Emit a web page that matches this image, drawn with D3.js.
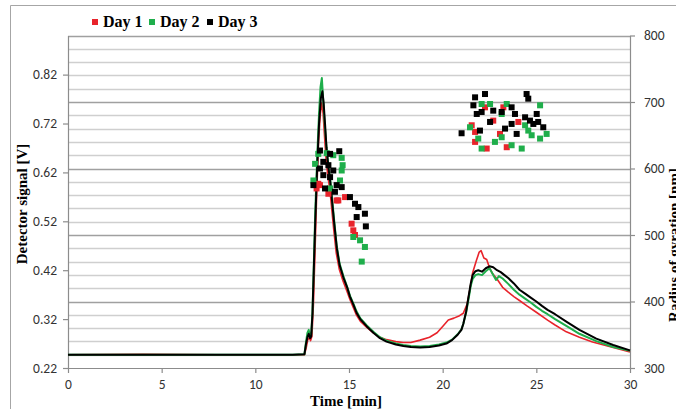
<!DOCTYPE html>
<html><head><meta charset="utf-8">
<script src="https://cdn.jsdelivr.net/npm/d3@7"></script>
<style>body{margin:0;background:#fff}svg{display:block}</style>
</head><body><svg id="c" width="676" height="409"></svg>
<script>
// ---- data ----
const seriesNames = ["Day 1", "Day 2", "Day 3"];
const seriesColors = ["#e8232b", "#1fae4b", "#000000"];
const xTicks = [0, 5, 10, 15, 20, 25, 30];
const yLeftTicks = [0.22, 0.32, 0.42, 0.52, 0.62, 0.72, 0.82];
const yRightTicks = [300, 400, 500, 600, 700, 800];

const day1Signal = [[0,0.247],[4,0.248],[8,0.247],[12,0.247],[12.62,0.247],[12.72,0.262],[12.8,0.278],[12.88,0.282],[12.95,0.276],[13.02,0.285],[13.1,0.35],[13.18,0.45],[13.27,0.57],[13.37,0.68],[13.47,0.74],[13.55,0.762],[13.62,0.74],[13.7,0.69],[13.78,0.645],[13.88,0.61],[13.98,0.585],[14.08,0.545],[14.18,0.505],[14.32,0.455],[14.48,0.422],[14.68,0.398],[14.88,0.378],[15.05,0.36],[15.25,0.342],[15.4,0.328],[15.6,0.316],[15.95,0.303],[16.3,0.292],[16.65,0.283],[17.0,0.278],[17.5,0.274],[17.9,0.272],[18.3,0.272],[18.8,0.277],[19.3,0.283],[19.7,0.292],[20.0,0.305],[20.3,0.318],[20.6,0.322],[20.9,0.327],[21.1,0.332],[21.3,0.35],[21.45,0.38],[21.6,0.415],[21.8,0.44],[21.95,0.457],[22.05,0.46],[22.2,0.445],[22.35,0.442],[22.5,0.425],[22.65,0.414],[22.9,0.402],[23.2,0.385],[23.5,0.375],[23.8,0.366],[24.1,0.358],[24.5,0.347],[25.0,0.334],[25.6,0.318],[26.0,0.308],[26.6,0.294],[27.3,0.283],[28.0,0.273],[29.0,0.263],[30,0.253]];
const day2Signal = [[0,0.247],[4,0.247],[8,0.247],[12,0.247],[12.62,0.248],[12.7,0.272],[12.78,0.292],[12.85,0.298],[12.92,0.285],[12.98,0.287],[13.05,0.335],[13.12,0.43],[13.2,0.54],[13.3,0.65],[13.4,0.74],[13.48,0.795],[13.55,0.813],[13.62,0.77],[13.7,0.72],[13.8,0.67],[13.9,0.635],[14.0,0.605],[14.1,0.565],[14.2,0.525],[14.35,0.468],[14.5,0.433],[14.7,0.408],[14.9,0.386],[15.05,0.368],[15.25,0.35],[15.4,0.336],[15.6,0.322],[15.95,0.307],[16.3,0.294],[16.65,0.283],[17.0,0.276],[17.5,0.27],[17.9,0.267],[18.3,0.265],[18.8,0.264],[19.3,0.265],[19.8,0.268],[20.2,0.272],[20.5,0.278],[20.8,0.289],[21.0,0.299],[21.1,0.31],[21.25,0.333],[21.4,0.365],[21.5,0.388],[21.6,0.402],[21.75,0.41],[21.9,0.412],[22.1,0.41],[22.3,0.418],[22.5,0.424],[22.7,0.41],[22.85,0.4],[23.0,0.408],[23.2,0.403],[23.5,0.392],[23.8,0.38],[24.1,0.37],[24.4,0.362],[24.7,0.354],[25.0,0.345],[25.3,0.337],[25.6,0.33],[26.0,0.32],[26.6,0.306],[27.3,0.29],[28.2,0.275],[29.1,0.263],[30,0.255]];
const day3Signal = [[0,0.247],[4,0.247],[8,0.247],[12,0.247],[12.62,0.248],[12.7,0.268],[12.78,0.283],[12.85,0.29],[12.92,0.281],[12.98,0.284],[13.05,0.33],[13.12,0.42],[13.2,0.52],[13.3,0.63],[13.4,0.72],[13.5,0.772],[13.58,0.786],[13.65,0.76],[13.72,0.72],[13.8,0.67],[13.9,0.63],[14.0,0.6],[14.1,0.56],[14.2,0.52],[14.35,0.465],[14.5,0.43],[14.7,0.405],[14.9,0.385],[15.05,0.366],[15.25,0.348],[15.4,0.333],[15.6,0.32],[15.95,0.305],[16.3,0.292],[16.65,0.281],[17.0,0.274],[17.5,0.268],[17.9,0.265],[18.3,0.263],[18.8,0.262],[19.3,0.263],[19.8,0.266],[20.2,0.27],[20.5,0.277],[20.8,0.288],[21.0,0.298],[21.1,0.31],[21.25,0.335],[21.4,0.37],[21.5,0.393],[21.6,0.41],[21.75,0.418],[21.9,0.42],[22.1,0.417],[22.3,0.424],[22.5,0.428],[22.7,0.426],[22.9,0.42],[23.1,0.416],[23.3,0.41],[23.5,0.404],[23.8,0.393],[24.1,0.38],[24.4,0.372],[24.7,0.364],[25.0,0.356],[25.3,0.347],[25.6,0.339],[26.0,0.33],[26.6,0.315],[27.3,0.298],[28.2,0.28],[29.1,0.267],[30,0.256]];

const day1Radius = [[13.27,570],[13.45,575],[13.9,562],[14.43,552],[14.79,557],[15.14,517],[15.23,507],[15.32,500],[13.36,577],[14.34,552],[21.55,665],[21.73,655],[21.73,640],[22.26,692],[23.24,692],[22.7,672],[23.06,652],[22.35,630],[23.42,632],[24.04,670]];
const day2Radius = [[13.36,622],[13.19,607],[13.81,623],[14.16,620],[14.61,616],[14.66,605],[14.61,597],[13.1,582],[13.99,570],[14.52,582],[15.23,497],[15.59,492],[15.85,482],[15.68,460],[21.46,662],[21.9,645],[22.08,630],[22.53,697],[23.15,682],[23.42,697],[22.79,640],[23.15,647],[23.68,635],[24.22,630],[24.57,657],[24.75,650],[25.2,645],[25.55,652],[25.2,695],[24.4,665],[22.08,697]];
const day3Radius = [[13.45,627],[13.99,622],[14.48,626],[13.63,610],[13.45,600],[13.9,605],[14.16,597],[13.63,590],[13.99,587],[13.1,575],[13.72,570],[14.34,575],[14.61,572],[14.25,565],[15.05,557],[15.32,547],[15.5,542],[15.85,532],[15.41,527],[15.9,513],[21.73,707],[22.26,712],[21.64,695],[21.82,682],[22.08,685],[21.01,653],[22.7,687],[23.15,685],[23.68,692],[23.86,682],[24.48,712],[24.57,705],[25.02,682],[25.1,670],[25.37,662],[24.66,672],[24.4,677],[23.68,667],[23.33,660],[23.95,652],[22.53,670],[21.99,657],[24.84,667]];

const signals = [day1Signal, day2Signal, day3Signal];
const radii = [day1Radius, day2Radius, day3Radius];

// ---- layout ----
const svg = d3.select("#c");
const L = 68, R = 630, T = 35.5, B = 368;
const x = d3.scaleLinear().domain([0, 30]).range([L, R]);
const yL = d3.scaleLinear().domain([0.22, 0.9]).range([B, T]);
const yR = d3.scaleLinear().domain([300, 800]).range([B, T]);

// chart area border
svg.append("path").attr("d", `M10.5,420 V5.5 H690`).attr("fill", "none").attr("stroke", "#a6a6a6").attr("stroke-width", 1);

// gridlines (right axis, minor every 20, major every 100)
const gridVals = d3.range(320, 801, 20);
svg.append("g").selectAll("line").data(gridVals).join("line")
  .attr("x1", L).attr("x2", R)
  .attr("y1", d => Math.round(yR(d)) + 0.5).attr("y2", d => Math.round(yR(d)) + 0.5)
  .attr("stroke", d => d % 100 === 0 ? "#a0a0a0" : "#cfcfcf").attr("stroke-width", 1.3);

const labelFont = "Carlito, Lato, 'Open Sans', sans-serif";
const titleFont = "'Liberation Serif', 'Times New Roman', serif";

function styleAxis(g) {
  g.selectAll("path.domain").attr("stroke", "#8c8c8c").attr("stroke-width", 1.2);
  g.selectAll(".tick line").attr("stroke", "#8c8c8c").attr("stroke-width", 1.2);
  g.selectAll(".tick text").attr("font-family", labelFont).attr("font-size", 13.5).attr("fill", "#333");
}

// x axis
const gx = svg.append("g").attr("transform", `translate(0,${B})`)
  .call(d3.axisBottom(x).tickValues(xTicks).tickFormat(d3.format("d")).tickSize(5).tickSizeOuter(0).tickPadding(6));
styleAxis(gx);

// left axis
const gl = svg.append("g").attr("transform", `translate(${L},0)`)
  .call(d3.axisLeft(yL).tickValues(yLeftTicks).tickFormat(d3.format(".2f")).tickSize(5).tickSizeOuter(0).tickPadding(6));
styleAxis(gl);

// right axis
const gr = svg.append("g").attr("transform", `translate(${R},0)`)
  .call(d3.axisRight(yR).tickValues(yRightTicks).tickFormat(d3.format("d")).tickSize(5).tickSizeOuter(0).tickPadding(9));
styleAxis(gr);

// lines
const line = d3.line().x(d => x(d[0])).y(d => yL(d[1]));
const widths = [1.6, 2, 2];
signals.forEach((s, i) => {
  svg.append("path").datum(s).attr("d", line).attr("fill", "none")
    .attr("stroke", seriesColors[i]).attr("stroke-width", widths[i]).attr("stroke-linejoin", "round");
});

// scatter (radius of gyration)
const ms = 6;
radii.forEach((s, i) => {
  svg.append("g").selectAll("rect").data(s).join("rect")
    .attr("x", d => x(d[0]) - ms / 2).attr("y", d => yR(d[1]) - ms / 2)
    .attr("width", ms).attr("height", ms).attr("fill", seriesColors[i]);
});

// axis titles
svg.append("text").attr("transform", "translate(27,204) rotate(-90)")
  .attr("text-anchor", "middle").attr("font-family", titleFont).attr("font-weight", "bold")
  .attr("font-size", 15).text("Detector signal [V]");
svg.append("text").attr("x", 346).attr("y", 406)
  .attr("text-anchor", "middle").attr("font-family", titleFont).attr("font-weight", "bold")
  .attr("font-size", 15).text("Time [min]");
svg.append("text").attr("transform", "translate(679,245) rotate(-90)")
  .attr("text-anchor", "middle").attr("font-family", titleFont).attr("font-weight", "bold")
  .attr("font-size", 15).text("Radius of gyration [nm]");

// legend
const legX = [92, 149, 207];
seriesNames.forEach((n, i) => {
  svg.append("rect").attr("x", legX[i]).attr("y", 19).attr("width", 6).attr("height", 6).attr("fill", seriesColors[i]);
  svg.append("text").attr("x", legX[i] + 11).attr("y", 27).attr("font-family", titleFont)
    .attr("font-weight", "bold").attr("font-size", 16).attr("fill", "#000").text(n);
});
</script></body></html>
